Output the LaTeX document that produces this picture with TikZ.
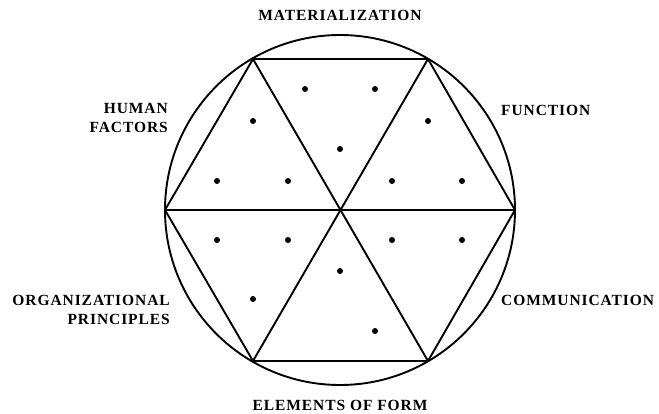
\documentclass[tikz,border=0pt]{standalone}
\usepackage{fontspec}
\setmainfont{Liberation Serif}[LetterSpace=6]
\begin{document}
\begin{tikzpicture}[x=1pt,y=-1pt,
  edge/.style={line width=1.9pt,black},
  dot/.style={circle,fill=black,inner sep=0pt,minimum size=6pt},
  lab/.style={font=\fontsize{15.5}{19}\selectfont\bfseries,inner sep=0pt,align=center}]
\useasboundingbox (0,0) rectangle (659,414);
\coordinate (c) at (340,210);
\coordinate (v1) at (515,210);
\coordinate (v2) at (428,59);
\coordinate (v3) at (253,59);
\coordinate (v4) at (165,210);
\coordinate (v5) at (253,361);
\coordinate (v6) at (428,361);
\draw[edge] (c) circle[radius=175];
\draw[edge] (v1) -- (v2) -- (v3) -- (v4) -- (v5) -- (v6) -- cycle;
\draw[edge] (v1) -- (v4);
\draw[edge] (v2) -- (v5);
\draw[edge] (v3) -- (v6);
% dots
\node[dot] (d1) at (305,89) {};
\node[dot] (d2) at (375,89) {};
\node[dot] (d3) at (340,149) {};
\node[dot] (d4) at (428,121) {};
\node[dot] (d5) at (392,181) {};
\node[dot] (d6) at (462,181) {};
\node[dot] (d7) at (253,121) {};
\node[dot] (d8) at (217,181) {};
\node[dot] (d9) at (288,181) {};
\node[dot] (d10) at (217,240) {};
\node[dot] (d11) at (288,240) {};
\node[dot] (d12) at (253,299) {};
\node[dot] (d13) at (340,271) {};
\node[dot] (d14) at (375,331) {};
\node[dot] (d15) at (392,240) {};
\node[dot] (d16) at (462,240) {};
% labels
\node[lab] (mat) at (340,15) {MATERIALIZATION};
\node[lab,anchor=west] (fun) at (501,110) {FUNCTION};
\node[lab,anchor=east,align=right] (hum) at (168,118) {HUMAN\\FACTORS};
\node[lab,anchor=east,align=right] (org) at (170,310) {ORGANIZATIONAL\\PRINCIPLES};
\node[lab,anchor=west] (com) at (501,300) {COMMUNICATION};
\node[lab] (ele) at (340,405) {ELEMENTS OF FORM};
\end{tikzpicture}
\end{document}
